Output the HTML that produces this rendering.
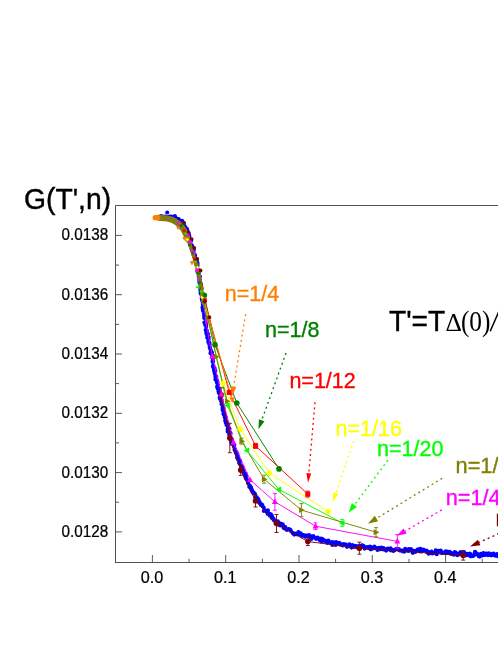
<!DOCTYPE html>
<html><head><meta charset="utf-8"><title>G(T',n)</title>
<style>html,body{margin:0;padding:0;background:#fff;overflow:hidden}body{width:498px;height:645px;position:relative;font-family:"Liberation Sans",sans-serif}</style>
</head><body>
<svg width="498" height="645" viewBox="0 0 498 645" style="will-change:transform;position:absolute;left:0;top:0;font-family:'Liberation Sans',sans-serif">
<rect width="498" height="645" fill="#fff"/>
<path d="M160.0,218.6h0M160.9,218.2h0M161.1,216.2h0M162.0,217.9h0M163.1,219.2h0M163.8,216.7h0M165.3,216.7h0M166.5,219.2h0M168.0,217.0h0M168.4,218.7h0M169.4,216.5h0M169.7,217.1h0M171.4,216.6h0M171.5,217.1h0M171.9,218.5h0M173.8,217.1h0M174.8,216.1h0M175.1,216.8h0M175.4,217.0h0M176.5,218.7h0M177.1,219.2h0M178.5,219.1h0M179.4,220.2h0M179.0,221.2h0M180.0,221.4h0M180.8,222.3h0M182.1,220.8h0M181.5,223.2h0M183.2,222.4h0M182.5,223.3h0M183.2,225.0h0M183.8,227.4h0M184.7,226.0h0M184.7,229.4h0M185.4,227.5h0M185.7,227.9h0M187.0,229.2h0M186.8,230.9h0M187.3,230.0h0M187.6,234.6h0M187.0,231.8h0M188.7,233.8h0M188.1,235.5h0M189.2,235.3h0M189.1,236.4h0M189.4,236.9h0M189.8,240.2h0M189.9,239.3h0M189.3,238.1h0M189.9,241.1h0M190.2,241.8h0M191.1,240.4h0M191.0,244.3h0M191.7,245.5h0M192.3,246.2h0M191.6,246.2h0M192.5,248.4h0M191.9,249.7h0M192.9,247.6h0M193.5,249.4h0M193.8,249.2h0M193.6,250.0h0M193.6,250.3h0M193.5,252.2h0M194.4,254.5h0M195.1,255.3h0M193.8,255.4h0M194.3,255.9h0M195.2,257.6h0M195.7,259.2h0M194.9,260.5h0M196.3,259.7h0M196.6,261.3h0M195.6,261.7h0M195.8,262.8h0M197.3,263.6h0M197.3,262.4h0M196.8,263.9h0M197.6,264.1h0M196.7,264.8h0M197.5,265.9h0M197.9,269.6h0M197.4,271.5h0M198.4,270.6h0M197.9,271.9h0M199.0,271.2h0M198.6,274.3h0M198.7,273.9h0M198.7,276.5h0M199.0,276.6h0M199.9,276.6h0M199.3,278.5h0M199.4,279.5h0M199.8,279.2h0M199.3,282.1h0M199.6,280.3h0M199.4,280.4h0M199.7,283.2h0M200.3,282.9h0M200.6,283.3h0M201.1,286.0h0M201.1,284.9h0M200.3,286.7h0M200.3,289.3h0M201.5,288.3h0M200.4,290.5h0M201.4,289.1h0M200.6,293.2h0M200.8,291.9h0M200.7,291.9h0M201.0,293.9h0M202.4,293.9h0M201.6,294.9h0M201.7,297.7h0M202.2,297.5h0M201.9,299.6h0M202.1,298.7h0M202.7,298.7h0M202.5,301.4h0M202.9,301.3h0M203.0,303.5h0M203.2,304.8h0M203.1,306.0h0M202.8,304.0h0M202.5,307.4h0M202.8,309.2h0M204.0,308.5h0M203.7,309.3h0M203.0,310.6h0M203.0,310.7h0M203.7,311.3h0M203.9,313.2h0M204.1,315.7h0M204.7,316.6h0M204.4,315.3h0M204.2,316.1h0M204.7,316.9h0M205.0,318.4h0M204.2,318.0h0M205.5,321.0h0M204.4,322.6h0M205.2,323.1h0M205.7,323.3h0M206.0,323.8h0M205.2,324.9h0M205.3,324.1h0M206.2,325.5h0M206.2,327.0h0M205.7,330.1h0M206.7,330.8h0M206.8,330.5h0M206.4,331.6h0M206.3,333.1h0M207.1,332.8h0M206.7,334.2h0M207.7,335.0h0M208.0,334.1h0M207.2,337.4h0M207.9,338.2h0M207.9,336.8h0M208.7,337.3h0M208.2,339.3h0M208.7,339.5h0M208.5,342.1h0M208.3,341.9h0M209.4,342.7h0M209.1,343.7h0M209.6,344.2h0M210.1,348.3h0M209.7,346.2h0M209.8,347.9h0M210.0,348.2h0M210.9,350.5h0M211.0,351.2h0M210.8,350.4h0M211.2,352.3h0M210.5,353.2h0M212.0,352.5h0M211.8,354.2h0M212.1,355.5h0M212.7,355.6h0M212.2,357.5h0M212.8,359.1h0M212.9,358.7h0M212.7,361.5h0M212.7,360.7h0M212.8,361.9h0M213.1,361.6h0M212.7,361.9h0M213.0,365.9h0M213.0,366.5h0M213.4,365.7h0M213.5,367.7h0M214.6,368.3h0M214.0,370.0h0M214.3,371.5h0M214.0,369.7h0M214.7,372.0h0M215.3,370.8h0M215.2,371.2h0M214.8,373.9h0M215.2,374.3h0M215.4,376.8h0M216.3,376.7h0M215.4,379.5h0M215.6,378.3h0M217.0,380.4h0M216.5,379.7h0M216.8,382.3h0M217.5,382.1h0M217.1,381.6h0M217.6,384.8h0M218.0,385.2h0M217.5,387.2h0M217.1,386.8h0M217.6,388.5h0M217.9,387.5h0M218.7,388.2h0M219.3,390.5h0M218.5,391.3h0M219.3,391.0h0M219.0,393.2h0M218.8,392.7h0M218.9,392.9h0M220.2,395.6h0M219.7,397.0h0M220.9,396.6h0M220.5,398.8h0M219.9,398.8h0M221.2,399.6h0M221.6,400.0h0M221.2,401.2h0M221.7,404.0h0M222.3,404.9h0M221.9,403.0h0M222.7,405.3h0M221.6,404.3h0M222.5,408.1h0M223.1,408.5h0M223.4,408.5h0M223.6,408.2h0M222.6,410.1h0M223.7,413.2h0M224.1,411.8h0M223.4,413.7h0M224.0,413.9h0M224.5,414.5h0M223.8,414.8h0M224.8,417.4h0M225.3,416.6h0M225.8,417.9h0M225.4,419.1h0M225.6,418.5h0M225.2,420.8h0M226.6,421.6h0M225.7,420.5h0M225.9,423.1h0M226.5,425.0h0M227.8,424.2h0M228.0,427.7h0M227.7,425.3h0M228.3,428.9h0M227.7,431.4h0M227.6,429.4h0M228.7,430.9h0M229.5,428.8h0M229.0,432.9h0M230.0,432.4h0M229.5,435.1h0M230.6,433.6h0M229.3,434.7h0M230.0,435.9h0M230.9,438.9h0M230.2,439.2h0M230.6,439.5h0M231.9,439.4h0M231.2,441.4h0M232.2,441.2h0M232.1,441.1h0M231.8,443.9h0M232.2,443.2h0M232.7,443.9h0M234.2,444.5h0M234.1,445.7h0M234.1,446.7h0M234.6,449.1h0M235.0,449.4h0M234.5,449.5h0M235.2,450.9h0M236.1,452.0h0M235.9,451.5h0M236.6,452.4h0M235.8,452.5h0M236.8,454.2h0M237.4,454.1h0M237.1,457.4h0M238.1,456.7h0M238.4,458.9h0M238.0,459.2h0M239.4,461.5h0M240.0,461.3h0M240.0,460.9h0M239.2,462.9h0M239.7,462.8h0M239.8,463.7h0M241.3,466.6h0M241.2,466.1h0M241.3,468.3h0M242.2,467.0h0M242.6,467.3h0M242.4,470.8h0M243.4,470.7h0M242.7,469.9h0M243.6,471.2h0M244.5,473.9h0M243.6,472.9h0M244.1,473.2h0M245.7,473.9h0M246.0,475.1h0M246.0,475.7h0M245.4,476.8h0M246.8,479.3h0M246.0,478.6h0M246.4,478.8h0M247.8,480.6h0M248.1,481.2h0M248.1,482.1h0M248.1,483.3h0M248.2,482.8h0M249.8,485.7h0M249.3,486.8h0M250.9,487.2h0M250.4,488.0h0M250.7,487.6h0M251.2,487.9h0M252.0,490.0h0M251.6,490.2h0M252.7,491.8h0M252.4,491.8h0M253.5,492.3h0M253.2,492.6h0M254.5,493.4h0M255.0,494.0h0M255.4,497.8h0M255.7,498.1h0M256.8,497.4h0M256.2,500.8h0M257.0,498.8h0M258.1,499.0h0M258.3,499.3h0M258.9,500.9h0M259.8,502.4h0M259.6,502.7h0M260.7,504.1h0M260.9,504.0h0M261.1,505.2h0M261.8,504.8h0M262.0,504.7h0M262.5,505.7h0M263.7,507.5h0M263.9,510.9h0M264.7,510.1h0M265.2,510.7h0M266.5,510.9h0M267.1,511.1h0M267.0,512.2h0M267.9,510.4h0M267.8,513.9h0M269.6,513.8h0M269.9,515.7h0M270.9,514.4h0M269.9,514.8h0M271.8,515.6h0M271.7,517.8h0M272.8,518.4h0M272.6,517.7h0M273.7,520.1h0M273.6,518.8h0M274.6,520.6h0M275.3,520.8h0M275.6,522.9h0M277.8,521.4h0M278.2,523.2h0M278.4,524.7h0M279.6,523.5h0M280.3,525.5h0M279.9,523.4h0M281.6,524.0h0M282.7,524.3h0M283.2,525.6h0M284.0,527.2h0M283.6,527.8h0M285.6,528.9h0M285.3,527.1h0M286.3,529.1h0M287.0,530.0h0M288.5,529.1h0M289.0,529.4h0M289.5,529.3h0M290.6,530.1h0M290.9,531.0h0M292.6,532.9h0M292.6,533.0h0M293.4,533.6h0M294.2,534.6h0M295.0,533.6h0M296.6,533.9h0M297.5,534.5h0M298.4,532.0h0M298.8,533.7h0M299.9,534.3h0M300.6,533.4h0M301.5,535.7h0M302.1,536.0h0M302.7,534.8h0M303.7,535.4h0M305.5,536.8h0M305.2,535.3h0M306.7,535.7h0M307.2,536.1h0M309.0,535.1h0M309.9,537.4h0M310.8,538.0h0M310.5,536.0h0M311.4,538.9h0M313.5,537.1h0M313.3,536.1h0M315.0,537.6h0M315.3,537.8h0M316.0,538.8h0M317.6,537.7h0M317.5,538.5h0M319.8,539.4h0M319.6,540.1h0M320.6,538.6h0M321.5,541.4h0M322.1,538.8h0M324.0,540.2h0M324.9,540.8h0M325.3,541.3h0M325.9,541.1h0M327.2,542.8h0M328.4,541.2h0M328.4,540.7h0M328.9,542.5h0M330.1,542.6h0M331.9,542.0h0M332.3,544.9h0M333.3,542.3h0M334.6,543.2h0M335.1,544.6h0M335.6,545.0h0M336.1,542.2h0M337.2,543.5h0M338.5,543.0h0M339.7,544.5h0M339.3,542.9h0M341.6,544.4h0M341.2,544.6h0M342.7,545.5h0M343.6,544.1h0M344.1,544.9h0M345.5,544.3h0M345.7,545.1h0M347.0,546.8h0M348.8,545.5h0M349.4,544.3h0M349.9,546.2h0M351.0,545.3h0M351.5,547.6h0M352.3,545.2h0M354.1,546.4h0M354.2,546.9h0M354.8,545.8h0M356.0,546.0h0M357.5,546.6h0M357.5,547.4h0M358.5,546.0h0M358.9,547.3h0M359.8,546.5h0M361.3,545.5h0M362.5,545.3h0M362.6,546.4h0M363.8,546.2h0M364.7,548.6h0M366.7,547.5h0M367.3,547.0h0M368.2,547.6h0M368.9,548.2h0M370.0,546.7h0M370.7,548.6h0M370.7,549.3h0M372.2,548.7h0M372.9,547.3h0M374.3,546.7h0M374.3,547.9h0M375.4,547.7h0M377.3,548.9h0M377.5,550.0h0M379.2,549.2h0M378.8,547.9h0M380.5,549.1h0M381.4,547.7h0M382.2,549.2h0M383.8,549.4h0M383.5,548.1h0M384.1,548.9h0M386.1,550.6h0M387.3,548.8h0M387.1,549.0h0M387.7,548.6h0M389.4,549.5h0M390.7,550.3h0M390.6,548.3h0M392.4,549.9h0M393.6,550.3h0M393.4,550.9h0M394.3,550.2h0M395.2,549.5h0M396.5,548.9h0M398.0,549.0h0M398.8,549.1h0M399.4,550.2h0M399.7,550.5h0M400.5,550.4h0M402.2,550.6h0M402.3,551.1h0M404.4,551.6h0M404.7,551.3h0M405.2,548.9h0M405.6,550.7h0M407.6,550.4h0M408.2,550.9h0M408.8,549.0h0M409.9,550.5h0M410.9,549.0h0M411.5,549.9h0M413.4,551.2h0M412.8,552.8h0M414.7,550.8h0M415.4,551.5h0M415.6,551.8h0M417.7,549.5h0M418.2,550.7h0M419.4,549.2h0M419.7,551.3h0M420.4,548.9h0M421.4,551.4h0M422.0,550.1h0M423.4,549.6h0M424.0,550.3h0M425.8,550.8h0M426.5,550.7h0M427.1,552.2h0M427.8,551.6h0M428.6,553.7h0M430.2,552.9h0M431.1,552.4h0M431.5,551.6h0M432.4,553.4h0M432.8,552.9h0M434.9,553.0h0M435.8,550.3h0M436.3,551.7h0M436.7,554.2h0M438.5,550.8h0M438.4,551.8h0M439.6,551.5h0M441.2,552.5h0M440.7,550.7h0M441.8,553.1h0M442.9,552.5h0M444.6,552.9h0M445.7,551.4h0M445.2,553.0h0M447.2,551.5h0M447.7,551.8h0M448.1,553.2h0M449.7,551.9h0M450.6,552.7h0M451.1,553.9h0M451.9,553.4h0M453.7,554.7h0M454.8,552.1h0M455.0,553.7h0M455.4,552.4h0M456.7,553.5h0M457.4,555.2h0M458.7,553.5h0M459.4,553.6h0M460.2,554.2h0M460.7,552.1h0M462.1,553.1h0M463.7,552.7h0M463.9,552.1h0M464.3,552.8h0M466.0,555.3h0M467.1,553.9h0M467.1,554.5h0M468.4,555.1h0M469.9,553.5h0M470.4,554.7h0M470.6,556.3h0M472.7,556.0h0M473.4,555.8h0M474.4,554.8h0M474.5,553.4h0M475.0,551.9h0M476.8,554.2h0M477.0,553.7h0M478.0,554.8h0M478.8,556.2h0M479.8,556.6h0M480.9,553.9h0M482.2,555.5h0M482.9,554.4h0M483.4,553.0h0M484.8,555.1h0M486.2,553.6h0M486.6,553.6h0M487.9,555.1h0M488.9,553.3h0M488.5,555.0h0M490.3,554.5h0M491.2,555.3h0M491.1,554.1h0M492.0,554.2h0M493.4,553.7h0M494.3,555.2h0M495.5,555.7h0M496.2,554.7h0M497.0,554.2h0M498.0,556.3h0M499.7,555.3h0" fill="none" stroke="#0000ff" stroke-width="4.2" stroke-linecap="round"/>
<circle cx="167.2" cy="212.4" r="2" fill="#0000ff"/>
<path d="M157.8,217.7L158.1,217.7L158.7,217.8L159.6,217.8L160.7,217.9L162.0,218.0L163.4,218.2L164.9,218.4L166.4,218.6L168.0,219.0L169.6,219.4L171.1,220.0L172.6,220.7L174.1,221.5L175.7,222.6L177.3,223.8L178.8,225.2L180.2,226.7L181.5,228.2L182.6,229.9L183.4,231.5L184.3,233.4L185.2,235.3L186.0,237.4L186.8,239.5L187.6,241.7L188.4,243.9L189.2,246.1L189.9,248.3L190.7,250.4L191.3,252.4L192.0,254.4L192.5,256.2L193.2,258.3L193.9,260.7L194.7,263.3L195.5,266.2L196.3,269.1L197.1,272.1L197.7,275.2L198.4,278.3L199.0,281.4L199.5,284.5L200.0,287.6L200.5,290.8L201.0,293.8L201.4,296.9" fill="none" stroke="#ff8000" stroke-width="1" />
<path d="M159.6,217.7L159.9,217.7L160.5,217.8L161.4,217.8L162.5,217.9L163.8,218.0L165.2,218.2L166.7,218.4L168.2,218.6L169.8,219.0L171.3,219.4L172.9,220.0L174.4,220.7L175.9,221.5L177.5,222.6L179.1,223.8L180.6,225.2L182.0,226.7L183.3,228.2L184.4,229.9L185.2,231.5L186.1,233.4L187.0,235.3L187.8,237.4L188.6,239.5L189.4,241.7L190.2,243.9L191.0,246.1L191.7,248.3L192.5,250.4L193.1,252.4L193.8,254.4L194.3,256.2L195.0,258.3L195.7,260.7L196.5,263.3L197.3,266.2L198.1,269.1L198.9,272.1L199.5,275.2L200.2,278.3L200.8,281.4L201.3,284.5L201.8,287.6L202.3,290.8L202.8,293.8L203.2,296.9" fill="none" stroke="#008000" stroke-width="1" />
<path d="M159.2,217.7L159.5,217.7L160.1,217.8L161.0,217.8L162.1,217.9L163.4,218.0L164.8,218.2L166.3,218.4L167.8,218.6L169.4,219.0L170.9,219.4L172.5,220.0L174.0,220.7L175.5,221.5L177.1,222.6L178.7,223.8L180.2,225.2L181.6,226.7L182.9,228.2L184.0,229.9L184.8,231.5L185.7,233.4L186.6,235.3L187.4,237.4L188.2,239.5L189.0,241.7L189.8,243.9L190.6,246.1L191.3,248.3L192.1,250.4L192.7,252.4L193.4,254.4L193.9,256.2L194.6,258.3L195.3,260.7L196.1,263.3L196.9,266.2L197.7,269.1L198.5,272.1L199.1,275.2L199.8,278.3L200.3,281.4L200.9,284.5L201.4,287.6L201.9,290.8L202.4,293.8L202.8,296.9" fill="none" stroke="#ff0000" stroke-width="1" />
<path d="M158.6,217.7L158.9,217.7L159.5,217.8L160.4,217.8L161.5,217.9L162.8,218.0L164.2,218.2L165.7,218.4L167.2,218.6L168.8,219.0L170.3,219.4L171.9,220.0L173.4,220.7L174.9,221.5L176.5,222.6L178.1,223.8L179.6,225.2L181.0,226.7L182.3,228.2L183.4,229.9L184.2,231.5L185.1,233.4L186.0,235.3L186.8,237.4L187.6,239.5L188.4,241.7L189.2,243.9L190.0,246.1L190.7,248.3L191.5,250.4L192.1,252.4L192.8,254.4L193.3,256.2L194.0,258.3L194.7,260.7L195.5,263.3L196.3,266.2L197.1,269.1L197.9,272.1L198.5,275.2L199.2,278.3L199.8,281.4L200.3,284.5L200.8,287.6L201.3,290.8L201.8,293.8L202.2,296.9" fill="none" stroke="#ffff00" stroke-width="1" />
<path d="M158.3,217.7L158.6,217.7L159.2,217.8L160.1,217.8L161.2,217.9L162.5,218.0L163.9,218.2L165.4,218.4L166.9,218.6L168.5,219.0L170.1,219.4L171.6,220.0L173.1,220.7L174.6,221.5L176.2,222.6L177.8,223.8L179.3,225.2L180.7,226.7L182.0,228.2L183.1,229.9L183.9,231.5L184.8,233.4L185.7,235.3L186.5,237.4L187.3,239.5L188.1,241.7L188.9,243.9L189.7,246.1L190.4,248.3L191.2,250.4L191.8,252.4L192.5,254.4L193.0,256.2L193.7,258.3L194.4,260.7L195.2,263.3L196.0,266.2L196.8,269.1L197.6,272.1L198.2,275.2L198.9,278.3L199.5,281.4L200.0,284.5L200.5,287.6L201.0,290.8L201.5,293.8L201.9,296.9" fill="none" stroke="#00ff00" stroke-width="1" />
<path d="M159.1,217.7L159.4,217.7L160.0,217.8L160.9,217.8L162.0,217.9L163.3,218.0L164.7,218.2L166.2,218.4L167.7,218.6L169.3,219.0L170.8,219.4L172.4,220.0L173.9,220.7L175.4,221.5L177.0,222.6L178.6,223.8L180.1,225.2L181.5,226.7L182.8,228.2L183.9,229.9L184.7,231.5L185.6,233.4L186.5,235.3L187.3,237.4L188.1,239.5L188.9,241.7L189.7,243.9L190.5,246.1L191.2,248.3L192.0,250.4L192.6,252.4L193.3,254.4L193.8,256.2L194.5,258.3L195.2,260.7L196.0,263.3L196.8,266.2L197.6,269.1L198.4,272.1L199.0,275.2L199.7,278.3L200.2,281.4L200.8,284.5L201.3,287.6L201.8,290.8L202.3,293.8L202.7,296.9" fill="none" stroke="#ff00ff" stroke-width="1" />
<path d="M201.2,287.6L201.7,290.8L204.3,295.4L215.0,344.7L236.8,403.0L279.0,468.9" fill="none" stroke="#008000" stroke-width="0.95" stroke-linejoin="round"/>
<path d="M201.2,287.6L201.7,290.8L202.2,293.8L202.6,296.9L204.9,301.0L229.3,392.5L255.6,445.9L307.8,494.1" fill="none" stroke="#ff0000" stroke-width="0.95" stroke-linejoin="round"/>
<path d="M201.2,287.6L201.7,290.8L202.2,293.8L203.3,298.0L232.3,399.5" fill="none" stroke="#ff8000" stroke-width="0.95" stroke-linejoin="round"/>
<path d="M201.2,287.6L201.7,290.8L202.2,293.8L202.6,296.9L203.1,300.1L203.5,303.2L204.0,306.2L205.5,310.0L223.0,383.5L240.1,429.2L269.3,473.0L328.2,511.7" fill="none" stroke="#ffff00" stroke-width="0.95" stroke-linejoin="round"/>
<path d="M201.2,287.6L201.7,290.8L202.2,293.8L202.6,296.9L203.1,300.1L204.6,304.0L227.4,405.5L246.9,450.5L278.8,489.4L342.2,522.9" fill="none" stroke="#00ff00" stroke-width="0.95" stroke-linejoin="round"/>
<path d="M201.2,287.6L201.7,290.8L202.2,293.8L202.6,296.9L203.1,300.1L203.5,303.2L204.0,306.2L204.4,309.3L204.9,312.4L208.0,318.4L216.2,356.8L227.2,401.2L241.7,441.2L264.1,479.2L301.4,510.1L376.0,532.2" fill="none" stroke="#808000" stroke-width="0.95" stroke-linejoin="round"/>
<path d="M221.2,394.8L229.8,438.0L240.7,470.1L255.5,501.0L276.5,523.5L307.8,541.5L359.4,548.2L463.2,555.5" fill="none" stroke="#800000" stroke-width="0.95" stroke-linejoin="round"/>
<path d="M201.2,287.6L201.7,290.8L202.2,293.8L202.6,296.9L203.1,300.1L203.5,303.2L204.0,306.2L204.4,309.3L204.9,312.4L205.4,315.4L205.5,320.0L212.3,356.2L218.1,380.0L221.5,394.3L233.5,442.5L250.0,479.8L274.9,501.8L315.5,526.2L397.3,541.4" fill="none" stroke="#ff00ff" stroke-width="0.95" stroke-linejoin="round"/>
<circle cx="204.3" cy="295.4" r="2.8" fill="#008000"/>
<circle cx="215.0" cy="344.7" r="2.8" fill="#008000"/>
<circle cx="236.8" cy="403.0" r="2.8" fill="#008000"/>
<circle cx="279.0" cy="468.9" r="2.8" fill="#008000"/>
<path d="M255.6,443.4V448.4M253.6,443.4h4.0M253.6,448.4h4.0" stroke="#ff0000" stroke-width="0.9" fill="none"/>
<path d="M307.8,491.1V497.1M305.8,491.1h4.0M305.8,497.1h4.0" stroke="#ff0000" stroke-width="0.9" fill="none"/>
<rect x="226.8" y="389.9" width="5.1" height="5.1" fill="#ff0000"/>
<rect x="253.0" y="443.3" width="5.1" height="5.1" fill="#ff0000"/>
<rect x="305.2" y="491.6" width="5.1" height="5.1" fill="#ff0000"/>
<path d="M203.3,301.4l3.0,-5.7h-6.0z" fill="#ff8000"/>
<path d="M232.3,402.9l3.0,-5.7h-6.0z" fill="#ff8000"/>
<path d="M223.0,380.1l3.4,3.4l-3.4,3.4l-3.4,-3.4z" fill="#ffff00"/>
<path d="M240.1,425.8l3.4,3.4l-3.4,3.4l-3.4,-3.4z" fill="#ffff00"/>
<path d="M269.3,469.6l3.4,3.4l-3.4,3.4l-3.4,-3.4z" fill="#ffff00"/>
<path d="M328.2,508.2l3.4,3.4l-3.4,3.4l-3.4,-3.4z" fill="#ffff00"/>
<path d="M342.2,519.4V526.4M340.2,519.4h4.0M340.2,526.4h4.0" stroke="#00ff00" stroke-width="0.9" fill="none"/>
<path d="M224.0,405.5l5.7,-3.0v6.0z" fill="#00ff00"/>
<path d="M243.5,450.5l5.7,-3.0v6.0z" fill="#00ff00"/>
<path d="M275.4,489.4l5.7,-3.0v6.0z" fill="#00ff00"/>
<path d="M338.8,522.9l5.7,-3.0v6.0z" fill="#00ff00"/>
<path d="M241.7,438.2V444.2M239.7,438.2h4.0M239.7,444.2h4.0" stroke="#808000" stroke-width="0.9" fill="none"/>
<path d="M264.1,475.2V483.2M262.1,475.2h4.0M262.1,483.2h4.0" stroke="#808000" stroke-width="0.9" fill="none"/>
<path d="M301.4,503.6V516.6M299.4,503.6h4.0M299.4,516.6h4.0" stroke="#808000" stroke-width="0.9" fill="none"/>
<path d="M376.0,527.6V536.8M374.0,527.6h4.0M374.0,536.8h4.0" stroke="#808000" stroke-width="0.9" fill="none"/>
<path d="M211.4,318.4l-5.7,-3.0v6.0z" fill="#808000"/>
<path d="M219.6,356.8l-5.7,-3.0v6.0z" fill="#808000"/>
<path d="M230.6,401.2l-5.7,-3.0v6.0z" fill="#808000"/>
<path d="M245.1,441.2l-5.7,-3.0v6.0z" fill="#808000"/>
<path d="M267.6,479.2l-5.7,-3.0v6.0z" fill="#808000"/>
<path d="M304.8,510.1l-5.7,-3.0v6.0z" fill="#808000"/>
<path d="M379.4,532.2l-5.7,-3.0v6.0z" fill="#808000"/>
<path d="M221.2,387.8V401.8M219.2,387.8h4.0M219.2,401.8h4.0" stroke="#800000" stroke-width="0.9" fill="none"/>
<path d="M229.8,423.3V452.7M227.8,423.3h4.0M227.8,452.7h4.0" stroke="#800000" stroke-width="0.9" fill="none"/>
<path d="M240.7,464.8V475.4M238.7,464.8h4.0M238.7,475.4h4.0" stroke="#800000" stroke-width="0.9" fill="none"/>
<path d="M255.5,495.0V507.0M253.5,495.0h4.0M253.5,507.0h4.0" stroke="#800000" stroke-width="0.9" fill="none"/>
<path d="M276.5,514.5V532.5M274.5,514.5h4.0M274.5,532.5h4.0" stroke="#800000" stroke-width="0.9" fill="none"/>
<path d="M307.8,537.5V545.5M305.8,537.5h4.0M305.8,545.5h4.0" stroke="#800000" stroke-width="0.9" fill="none"/>
<path d="M359.4,542.2V554.2M357.4,542.2h4.0M357.4,554.2h4.0" stroke="#800000" stroke-width="0.9" fill="none"/>
<path d="M463.2,550.9V560.1M461.2,550.9h4.0M461.2,560.1h4.0" stroke="#800000" stroke-width="0.9" fill="none"/>
<circle cx="221.2" cy="394.8" r="2.8" fill="#800000"/>
<circle cx="229.8" cy="438.0" r="2.8" fill="#800000"/>
<circle cx="240.7" cy="470.1" r="2.8" fill="#800000"/>
<circle cx="255.5" cy="501.0" r="2.8" fill="#800000"/>
<circle cx="276.5" cy="523.5" r="2.8" fill="#800000"/>
<circle cx="307.8" cy="541.5" r="2.8" fill="#800000"/>
<circle cx="359.4" cy="548.2" r="2.8" fill="#800000"/>
<circle cx="463.2" cy="555.5" r="2.8" fill="#800000"/>
<path d="M274.9,493.4V510.2M272.9,493.4h4.0M272.9,510.2h4.0" stroke="#ff00ff" stroke-width="0.9" fill="none"/>
<path d="M315.5,522.9V529.5M313.5,522.9h4.0M313.5,529.5h4.0" stroke="#ff00ff" stroke-width="0.9" fill="none"/>
<path d="M397.3,534.6V548.2M395.3,534.6h4.0M395.3,548.2h4.0" stroke="#ff00ff" stroke-width="0.9" fill="none"/>
<path d="M212.3,352.8l3.0,5.7h-6.0z" fill="#ff00ff"/>
<path d="M221.5,390.9l3.0,5.7h-6.0z" fill="#ff00ff"/>
<path d="M233.5,439.1l3.0,5.7h-6.0z" fill="#ff00ff"/>
<path d="M250.0,476.4l3.0,5.7h-6.0z" fill="#ff00ff"/>
<path d="M274.9,498.4l3.0,5.7h-6.0z" fill="#ff00ff"/>
<path d="M315.5,522.8l3.0,5.7h-6.0z" fill="#ff00ff"/>
<path d="M397.3,537.9l3.0,5.7h-6.0z" fill="#ff00ff"/>
<path d="M159.0,217.7L159.3,217.7L159.9,217.8L160.8,217.8L161.9,217.9L163.2,218.0L164.6,218.2L166.1,218.4L167.6,218.6L169.2,219.0L170.8,219.4L172.3,220.0L173.8,220.7L175.3,221.5L176.9,222.6L178.5,223.8L180.0,225.2L181.4,226.7L182.7,228.2L183.8,229.9L184.6,231.5L185.5,233.4L186.4,235.3L187.2,237.4L188.0,239.5L188.8,241.7L189.6,243.9L190.4,246.1L191.1,248.3L191.9,250.4L192.5,252.4L193.2,254.4L193.7,256.2L194.4,258.3L195.1,260.7L195.9,263.3L196.7,266.2L197.5,269.1L198.3,272.1L198.9,275.2L199.6,278.3L200.2,281.4L200.7,284.5L201.2,287.6L201.7,290.8L202.2,293.8L202.6,296.9L203.1,300.1L203.5,303.2" fill="none" stroke="#808000" stroke-width="3.6" stroke-linecap="round" stroke-linejoin="round"/>
<path d="M159.0,217.7L159.3,217.7L159.9,217.8L160.8,217.8L161.9,217.9L163.2,218.0L164.6,218.2L166.1,218.4L167.6,218.6L169.2,219.0L170.8,219.4L172.3,220.0L173.8,220.7L175.3,221.5L176.9,222.6L178.5,223.8L180.0,225.2L181.4,226.7L182.7,228.2L183.8,229.9L184.6,231.5L185.5,233.4L186.4,235.3L187.2,237.4L188.0,239.5" fill="none" stroke="#808000" stroke-width="6" stroke-linecap="round" stroke-linejoin="round"/>
<path d="M155.2,217.7H157.8" stroke="#ff8000" stroke-width="5.2" stroke-linecap="round"/>
<path d="M178.5,221.5l-3.2,-1.7v3.4z" fill="#808000"/>
<path d="M178.8,221.7l1.7,3.2h-3.4z" fill="#ff00ff"/>
<circle cx="181.1" cy="225.6" r="1.6" fill="#008000"/>
<path d="M184.1,228.6l-3.2,-1.7v3.4z" fill="#808000"/>
<rect x="182.8" y="229.4" width="2.9" height="2.9" fill="#ff0000"/>
<path d="M183.8,233.4l3.2,-1.7v3.4z" fill="#00ff00"/>
<path d="M188.9,236.2l-3.2,-1.7v3.4z" fill="#808000"/>
<path d="M187.2,237.4l2.0,2.0l-2.0,2.0l-2.0,-2.0z" fill="#ffff00"/>
<path d="M189.3,239.8l1.7,3.2h-3.4z" fill="#ff00ff"/>
<circle cx="189.4" cy="244.9" r="1.6" fill="#008000"/>
<path d="M192.5,247.7l-3.2,-1.7v3.4z" fill="#808000"/>
<path d="M191.9,248.4l1.7,3.2h-3.4z" fill="#ff00ff"/>
<circle cx="193.0" cy="253.2" r="1.6" fill="#008000"/>
<path d="M195.8,256.1l-3.2,-1.7v3.4z" fill="#808000"/>
<rect x="193.2" y="257.5" width="2.9" height="2.9" fill="#ff0000"/>
<path d="M193.8,261.7l3.2,-1.7v3.4z" fill="#00ff00"/>
<path d="M198.0,264.8l-3.2,-1.7v3.4z" fill="#808000"/>
<path d="M197.3,265.6l2.0,2.0l-2.0,2.0l-2.0,-2.0z" fill="#ffff00"/>
<path d="M198.2,268.5l1.7,3.2h-3.4z" fill="#ff00ff"/>
<circle cx="198.1" cy="273.5" r="1.6" fill="#008000"/>
<path d="M201.2,276.3l-3.2,-1.7v3.4z" fill="#808000"/>
<path d="M199.8,277.3l1.7,3.2h-3.4z" fill="#ff00ff"/>
<circle cx="199.6" cy="282.4" r="1.6" fill="#008000"/>
<path d="M202.8,285.2l-3.2,-1.7v3.4z" fill="#808000"/>
<rect x="200.1" y="286.7" width="2.9" height="2.9" fill="#ff0000"/>
<path d="M199.1,291.2l3.2,-1.7v3.4z" fill="#00ff00"/>
<path d="M203.3,294.2l-3.2,-1.7v3.4z" fill="#808000"/>
<path d="M202.1,295.2l2.0,2.0l-2.0,2.0l-2.0,-2.0z" fill="#ffff00"/>
<circle cx="184.2" cy="223.0" r="1.9" fill="#800000"/>
<circle cx="188.6" cy="232.3" r="1.9" fill="#800000"/>
<circle cx="191.7" cy="239.1" r="1.9" fill="#800000"/>
<circle cx="194.2" cy="247.8" r="1.9" fill="#800000"/>
<circle cx="197.3" cy="259.0" r="1.9" fill="#800000"/>
<circle cx="200.5" cy="270.5" r="1.9" fill="#800000"/>
<path d="M178.0,230.3l2.0,-3.8h-4.0z" fill="#ff8000"/>
<path d="M184.2,240.8l2.0,-3.8h-4.0z" fill="#ff8000"/>
<path d="M192.3,265.1l2.0,-3.8h-4.0z" fill="#ff8000"/>
<path d="M191.8,265.3l2.0,-3.8h-4.0z" fill="#ff8000"/>
<path d="M188.0,232.5l2.0,3.8h-4.0z" fill="#ff00ff"/>
<path d="M191.0,239.9l2.0,3.8h-4.0z" fill="#ff00ff"/>
<path d="M194.8,250.5l2.0,3.8h-4.0z" fill="#ff00ff"/>
<path d="M196.8,266.9l2.0,3.8h-4.0z" fill="#ff00ff"/>
<path d="M199.5,264.2l-3.8,-2.0v4.0z" fill="#808000"/>
<path d="M204.7,287.9l-3.8,-2.0v4.0z" fill="#808000"/>
<path d="M195.3,287.3l3.8,-2.0v4.0z" fill="#00ff00"/>
<circle cx="204.3" cy="295.4" r="1.9" fill="#008000"/>
<rect x="203.5" y="298.3" width="3.4" height="3.4" fill="#ff0000"/>
<circle cx="204.8" cy="301.5" r="1.9" fill="#800000"/>
<circle cx="209.3" cy="317.2" r="1.9" fill="#800000"/>
<path d="M207.0,319.7l2.0,3.8h-4.0z" fill="#ff00ff"/>
<circle cx="163" cy="216.2" r="0.8" fill="#ff00ff"/>
<circle cx="168" cy="219.8" r="0.8" fill="#ff00ff"/>
<circle cx="173" cy="217.3" r="0.8" fill="#ff00ff"/>
<circle cx="177" cy="222.6" r="0.8" fill="#ff00ff"/>
<path d="M245.7,314.2L233.6,386.6" stroke="#ff8000" stroke-width="1.3" stroke-dasharray="2 3.2" fill="none"/><path d="M232.0,396.5L230.9,386.2L236.4,387.1z" fill="#ff8000"/>
<path d="M286,353L261.7,420.3" stroke="#008000" stroke-width="1.3" stroke-dasharray="2 3.2" fill="none"/><path d="M258.5,429.2L258.9,419.2L264.5,421.3z" fill="#008000"/>
<path d="M315,402.2L308.8,473.2" stroke="#ff0000" stroke-width="1.3" stroke-dasharray="2 3.2" fill="none"/><path d="M308.0,482.7L306.4,473.0L311.2,473.4z" fill="#ff0000"/>
<path d="M353.7,441L335.9,493.1" stroke="#ffff00" stroke-width="1.3" stroke-dasharray="2 3.2" fill="none"/><path d="M332.8,502.1L333.3,492.2L338.4,494.0z" fill="#ffff00"/>
<path d="M387.9,460.2L354.4,505.0" stroke="#00ff00" stroke-width="1.3" stroke-dasharray="2 3.2" fill="none"/><path d="M348.7,512.6L351.8,503.1L357.0,506.9z" fill="#00ff00"/>
<path d="M442.2,478.3L376.4,518.5" stroke="#808000" stroke-width="1.3" stroke-dasharray="2 3.2" fill="none"/><path d="M367.9,523.7L374.8,515.8L378.1,521.2z" fill="#808000"/>
<path d="M441.8,509.9L405.0,531.1" stroke="#ff00ff" stroke-width="1.3" stroke-dasharray="2 3.2" fill="none"/><path d="M396.8,535.8L403.5,528.4L406.6,533.7z" fill="#ff00ff"/>
<path d="M499,533.6L479.1,542.4" stroke="#800000" stroke-width="1.3" stroke-dasharray="2 3.2" fill="none"/><path d="M470,546.5L477.9,539.7L480.4,545.2z" fill="#800000"/>
<path d="M115.5,562.5V205.5H498" fill="none" stroke="#505050" stroke-width="1"/>
<path d="M115,562.5H498" fill="none" stroke="#505050" stroke-width="1"/>
<path d="M115.5,235.4h6.5M115.5,294.7h6.5M115.5,354.0h6.5M115.5,413.3h6.5M115.5,472.6h6.5M115.5,531.9h6.5M115.5,265.1h3.5M115.5,324.4h3.5M115.5,383.6h3.5M115.5,442.9h3.5M115.5,502.2h3.5M152.4,562.5v-7.5M225.7,562.5v-7.5M299.0,562.5v-7.5M372.3,562.5v-7.5M445.6,562.5v-7.5M189.1,562.5v-3.7M262.4,562.5v-3.7M335.6,562.5v-3.7M409.0,562.5v-3.7M482.2,562.5v-3.7" stroke="#484848" stroke-width="0.9" fill="none"/>
<text transform="translate(108.2,240.3) scale(0.913,1)" font-size="16.7" fill="#000" text-anchor="end" stroke="#000" stroke-width="0.25">0.0138</text>
<text transform="translate(108.2,299.59999999999997) scale(0.913,1)" font-size="16.7" fill="#000" text-anchor="end" stroke="#000" stroke-width="0.25">0.0136</text>
<text transform="translate(108.2,358.9) scale(0.913,1)" font-size="16.7" fill="#000" text-anchor="end" stroke="#000" stroke-width="0.25">0.0134</text>
<text transform="translate(108.2,418.19999999999993) scale(0.913,1)" font-size="16.7" fill="#000" text-anchor="end" stroke="#000" stroke-width="0.25">0.0132</text>
<text transform="translate(108.2,477.5) scale(0.913,1)" font-size="16.7" fill="#000" text-anchor="end" stroke="#000" stroke-width="0.25">0.0130</text>
<text transform="translate(108.2,536.8) scale(0.913,1)" font-size="16.7" fill="#000" text-anchor="end" stroke="#000" stroke-width="0.25">0.0128</text>
<text transform="translate(152.0,583) scale(0.93,1)" font-size="17.4" fill="#000" text-anchor="middle" stroke="#000" stroke-width="0.25">0.0</text>
<text transform="translate(225.29999999999998,583) scale(0.93,1)" font-size="17.4" fill="#000" text-anchor="middle" stroke="#000" stroke-width="0.25">0.1</text>
<text transform="translate(298.6,583) scale(0.93,1)" font-size="17.4" fill="#000" text-anchor="middle" stroke="#000" stroke-width="0.25">0.2</text>
<text transform="translate(371.9,583) scale(0.93,1)" font-size="17.4" fill="#000" text-anchor="middle" stroke="#000" stroke-width="0.25">0.3</text>
<text transform="translate(445.20000000000005,583) scale(0.93,1)" font-size="17.4" fill="#000" text-anchor="middle" stroke="#000" stroke-width="0.25">0.4</text>
<text transform="translate(24,208.8) scale(0.979,1)" font-size="28.9" fill="#000" text-anchor="start" stroke="#000" stroke-width="0.4">G(T',n)</text>
<text transform="translate(224.8,301.4) scale(0.969,1)" font-size="22.2" fill="#ff8000" text-anchor="start" stroke="#ff8000" stroke-width="0.35">n=1/4</text>
<text transform="translate(265,336.8) scale(0.969,1)" font-size="22.2" fill="#008000" text-anchor="start" stroke="#008000" stroke-width="0.35">n=1/8</text>
<text transform="translate(289.4,388) scale(0.969,1)" font-size="22.2" fill="#ff0000" text-anchor="start" stroke="#ff0000" stroke-width="0.35">n=1/12</text>
<text transform="translate(335.6,436) scale(0.969,1)" font-size="22.2" fill="#ffff00" text-anchor="start" stroke="#ffff00" stroke-width="0.35">n=1/16</text>
<text transform="translate(377.1,456.4) scale(0.969,1)" font-size="22.2" fill="#00ff00" text-anchor="start" stroke="#00ff00" stroke-width="0.35">n=1/20</text>
<text transform="translate(455.6,472.8) scale(1.0,1)" font-size="21.7" fill="#808000" text-anchor="start" stroke="#808000" stroke-width="0.35">n=1/24</text>
<text transform="translate(445.8,505.4) scale(1.0,1)" font-size="21.7" fill="#ff00ff" text-anchor="start" stroke="#ff00ff" stroke-width="0.35">n=1/48</text>
<text transform="translate(495.6,525.8) scale(1.0,1)" font-size="21.7" fill="#800000" text-anchor="start" stroke="#800000" stroke-width="0.35">n=0</text>
<text transform="translate(389,331.2) scale(0.94,1)" font-size="30" fill="#000" text-anchor="start" stroke="#000" stroke-width="0.4">T'=T</text>
<text transform="translate(445.5,331) scale(1.01,1)" font-size="25.3" fill="#000" text-anchor="start" font-family="'Liberation Serif',serif">Δ</text>
<text transform="translate(460.9,331) scale(0.872,1)" font-size="29.1" fill="#000" text-anchor="start" font-family="'Liberation Serif',serif">(0)</text>
<path d="M490.2,331.3L499.2,310.6" stroke="#000" stroke-width="1.5" fill="none"/>
</svg>
</body></html>
